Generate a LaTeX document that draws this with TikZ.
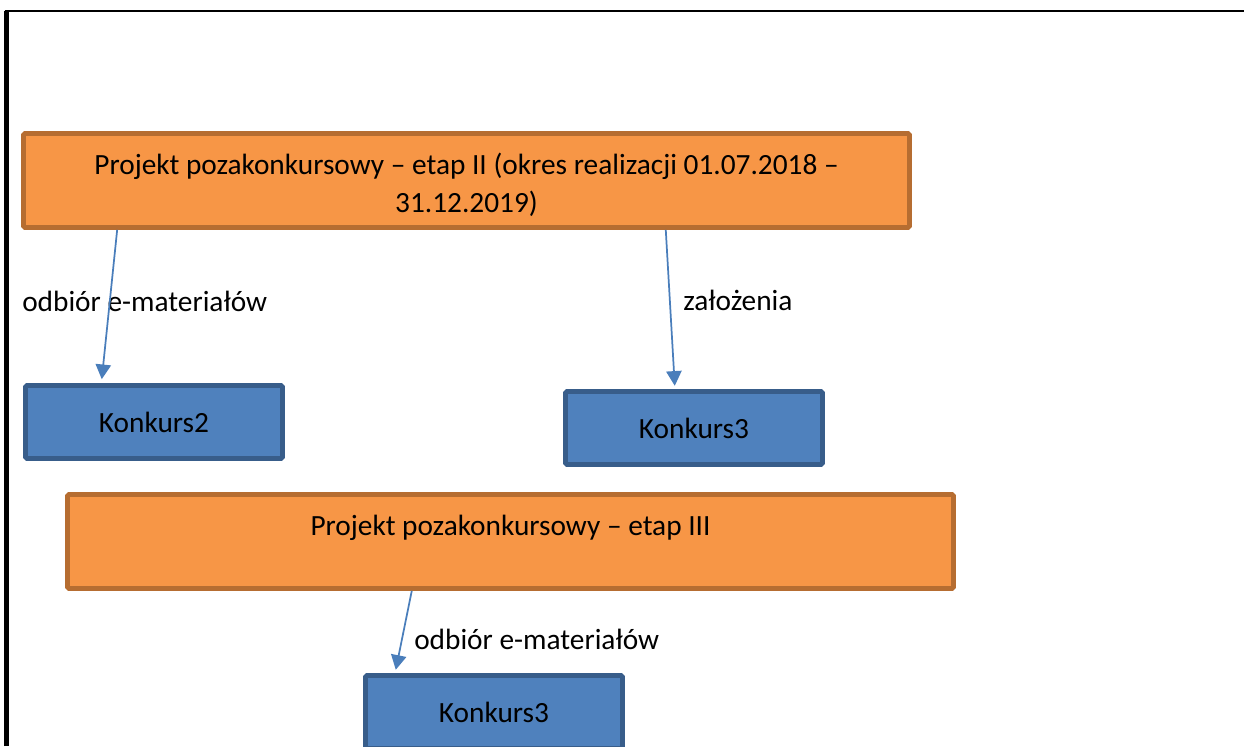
\documentclass[tikz,border=0pt]{standalone}
\usepackage{fontspec}
\setmainfont{Carlito}
\usetikzlibrary{arrows.meta,calc}

\definecolor{etapfill}{HTML}{F79646}
\definecolor{etapline}{HTML}{B66D31}
\definecolor{konkursfill}{HTML}{4F81BD}
\definecolor{konkursline}{HTML}{385D8A}
\definecolor{strzalka}{HTML}{4A7EBB}

\begin{document}
\begin{tikzpicture}[x=0.75pt,y=-0.75pt,
		font=\fontsize{22}{28.5}\selectfont,
		etap/.style={draw=etapline,fill=etapfill,line width=3.5pt,rounded corners=1pt,inner sep=0pt,minimum width=664.5pt,text height=30.5pt,text depth=40pt},
		konkurs/.style={draw=konkursline,fill=konkursfill,line width=3.5pt,rounded corners=1pt,minimum width=192.75pt,minimum height=54.75pt},
		przeplyw/.style={draw=strzalka,line width=1.3pt,-{Triangle[length=11pt,width=11.5pt]}},
		opis/.style={anchor=base west,inner sep=0pt}]
		\useasboundingbox (0,0) rectangle (1244,746);
		%
		\draw[line width=4pt] (6.5,746) -- (6.5,11);
		\draw[line width=1.9pt] (4.6,11) -- (1244,11);
		%
		\node[etap,align=center,text height=59pt,text depth=11.5pt] (etap2) at (466.5,180.5) {Projekt pozakonkursowy – etap II (okres realizacji 01.07.2018 –\\31.12.2019)};
		\node[etap] (etap3) at (510.5,541.5) {Projekt pozakonkursowy – etap III};
		%
		\node[konkurs] (k2) at (154,422) {Konkurs2};
		\node[konkurs] (k3a) at (694,428) {Konkurs3};
		\node[konkurs] (k3b) at (494,712) {Konkurs3};
		%
		\node[opis] (odbior2) at (22,311) {odbiór e-materiałów};
		\node[opis] (zalozenia) at (683,310) {założenia};
		\node[opis] (odbior3) at (414,649) {odbiór e-materiałów};
		%
		\draw[przeplyw] ($(etap2.south west)+(96,0)$) -- ($(k2.north west)+(78.6,-4)$);
		\draw[przeplyw] ($(etap2.south west)+(644.6,0)$) -- ($(k3a.north west)+(111.6,-3.4)$);
		\draw[przeplyw] ($(etap3.south west)+(346.6,0)$) -- ($(k3b.north west)+(32.6,-3.4)$);
	\end{tikzpicture}
\end{document}
